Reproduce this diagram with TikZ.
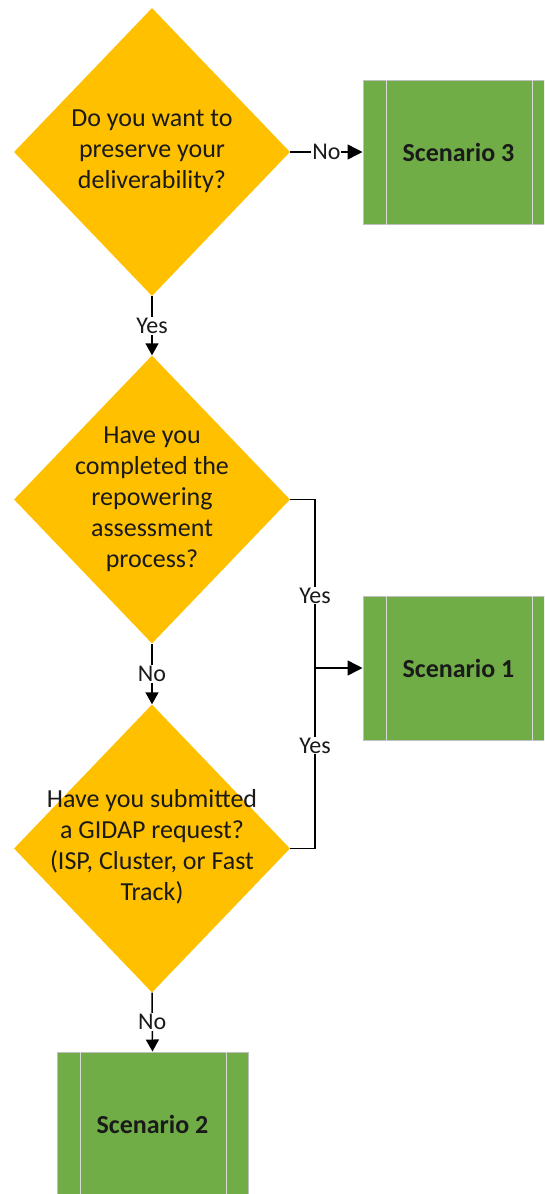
\documentclass[tikz,border=0pt]{standalone}
\usepackage{fontspec}
\setmainfont{Carlito}
\usetikzlibrary{shapes.geometric,arrows.meta}
\definecolor{gold}{HTML}{FFC000}
\definecolor{grn}{HTML}{70AD47}
\definecolor{boxedge}{HTML}{BFBFBF}
\definecolor{innerln}{HTML}{D9D9D9}
\definecolor{txt}{HTML}{1A1A1A}
\begin{document}
\begin{tikzpicture}[x=1pt,y=-1pt,
  dec/.style={shape=diamond, fill=gold, minimum width=276pt, minimum height=288pt, inner sep=0pt},
  qtext/.style={align=center, font=\fontsize{26}{31}\selectfont, text=txt},
  scen/.style={rectangle, fill=grn, draw=boxedge, line width=1pt, minimum width=191pt, minimum height=144pt, font=\fontsize{26}{31}\selectfont\bfseries, text=txt},
  innerline/.style={draw=innerln, line width=1.5pt},
  conn/.style={line width=1.5pt, draw=black},
  bigtip/.style={-{Triangle[length=15pt,width=15pt]}},
  smalltip/.style={-{Triangle[length=12pt,width=13pt]}},
  lbl/.style={fill=white, inner sep=1pt, font=\fontsize{24}{28}\selectfont, text=txt}
]
\useasboundingbox (0,0) rectangle (544,1194);
\clip (0,0) rectangle (544,1194);

% decisions
\node[dec] (d1) at (152,152) {};
\node[dec] (d2) at (152,499.5) {};
\node[dec] (d3) at (152,848.5) {};
\node[qtext] (t1) at (152,151) {Do you want to\\preserve your\\deliverability?};
\node[qtext] (t2) at (152,499) {Have you\\completed the\\repowering\\assessment\\process?};
\node[qtext] (t3) at (152,847) {Have you submitted\\a GIDAP request?\\(ISP, Cluster, or Fast\\Track)};

% scenarios
\node[scen] (s3) at (458.5,152) {Scenario 3};
\node[scen] (s1) at (458.5,668) {Scenario 1};
\node[scen] (s2) at (152.5,1124) {Scenario 2};
\foreach \s in {s1,s2,s3}{
  \draw[innerline] ([xshift=24pt]\s.north west) -- ([xshift=24pt]\s.south west);
  \draw[innerline] ([xshift=-22pt]\s.north east) -- ([xshift=-22pt]\s.south east);
}

% connectors
\draw[conn,bigtip] (d1.east) -- node[lbl]{No} (s3.west);
\draw[conn,smalltip] (d1.south) -- node[lbl]{Yes} (d2.north);
\draw[conn,smalltip] (d2.south) -- node[lbl]{No} (d3.north);
\draw[conn,smalltip] (d3.south) -- node[lbl]{No} (s2.north);

\coordinate (j) at (315,668);
\draw[conn] (d2.east) -- (d2.east -| j) -- node[lbl,pos=0.57]{Yes} (j);
\draw[conn] (d3.east) -- (d3.east -| j) -- node[lbl,pos=0.57]{Yes} (j);
\draw[conn,bigtip] (j) -- (s1.west);
\end{tikzpicture}
\end{document}
